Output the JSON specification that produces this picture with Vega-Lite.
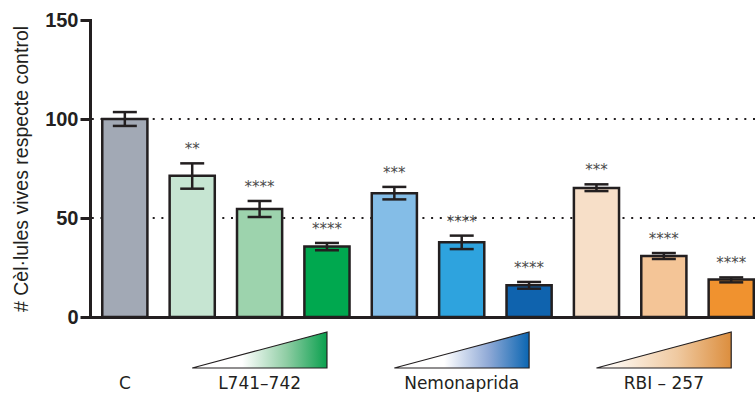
{
  "$schema": "https://vega.github.io/schema/vega-lite/v6.json",
  "padding": {"left": 11, "top": 10, "right": 0, "bottom": 0},
  "background": "white",
  "bounds": "flush",
  "spacing": 15,
  "config": {
    "view": {"stroke": null},
    "font": "Liberation Sans"
  },
  "datasets": {
    "cells": [
      {"barra": "C", "grup": "C", "dosi": 0, "mitjana": 100, "baix": 96.5, "alt": 103.5, "sig": ""},
      {"barra": "L1", "grup": "L741–742", "dosi": 1, "mitjana": 71.3, "baix": 64.8, "alt": 77.6, "sig": "**"},
      {"barra": "L2", "grup": "L741–742", "dosi": 2, "mitjana": 54.5, "baix": 50.5, "alt": 58.6, "sig": "****"},
      {"barra": "L3", "grup": "L741–742", "dosi": 3, "mitjana": 35.6, "baix": 33.7, "alt": 37.4, "sig": "****"},
      {"barra": "N1", "grup": "Nemonaprida", "dosi": 1, "mitjana": 62.5, "baix": 59.4, "alt": 65.7, "sig": "***"},
      {"barra": "N2", "grup": "Nemonaprida", "dosi": 2, "mitjana": 37.7, "baix": 34.3, "alt": 41.1, "sig": "****"},
      {"barra": "N3", "grup": "Nemonaprida", "dosi": 3, "mitjana": 16, "baix": 14.3, "alt": 17.7, "sig": "****"},
      {"barra": "R1", "grup": "RBI – 257", "dosi": 1, "mitjana": 65.2, "baix": 63.6, "alt": 67, "sig": "***"},
      {"barra": "R2", "grup": "RBI – 257", "dosi": 2, "mitjana": 30.8, "baix": 29.3, "alt": 32.3, "sig": "****"},
      {"barra": "R3", "grup": "RBI – 257", "dosi": 3, "mitjana": 18.9, "baix": 17.5, "alt": 20, "sig": "****"}
    ],
    "referencies": [{"nivell": 50}, {"nivell": 100}]
  },
  "vconcat": [
    {
      "width": 665,
      "height": 297,
      "layer": [
        {
          "data": {"name": "referencies"},
          "mark": {"type": "rule", "strokeDash": [2, 6.7], "strokeWidth": 2, "color": "#231f20"},
          "encoding": {"y": {"field": "nivell", "type": "quantitative"}}
        },
        {
          "data": {"name": "cells"},
          "mark": {"type": "bar", "stroke": "#231f20", "strokeWidth": 2.5, "opacity": 1},
          "encoding": {
            "x": {
              "field": "barra", "type": "nominal",
              "scale": {"type": "band", "domain": ["C", "L1", "L2", "L3", "N1", "N2", "N3", "R1", "R2", "R3"], "paddingInner": 0.33, "paddingOuter": 0.1, "align": 0.91},
              "axis": {"title": null, "labels": false, "ticks": false, "grid": false, "domain": true, "domainWidth": 3, "domainColor": "#231f20", "domainCap": "square"}
            },
            "y": {
              "field": "mitjana", "type": "quantitative",
              "title": "# Cèl·lules vives respecte control",
              "scale": {"domain": [0, 150], "nice": false},
              "axis": {
                "values": [0, 50, 100, 150], "grid": false,
                "domainWidth": 3, "domainColor": "#231f20", "domainCap": "square",
                "tickSize": 10, "tickWidth": 3, "tickColor": "#231f20",
                "labelFont": "Liberation Sans", "labelFontSize": 20, "labelFontWeight": "bold", "labelColor": "#231f20", "labelPadding": 2,
                "titleFont": "Liberation Sans", "titleFontSize": 19.5, "titleFontWeight": "normal", "titleColor": "#231f20", "titlePadding": 13
              }
            },
            "color": {
              "field": "barra", "type": "nominal", "legend": null,
              "scale": {
                "domain": ["C", "L1", "L2", "L3", "N1", "N2", "N3", "R1", "R2", "R3"],
                "range": ["#a2a9b5", "#c6e5d2", "#9dd3ad", "#00a84f", "#84bde7", "#2ea3de", "#0f63ae", "#f7dfc8", "#f4c597", "#f0922f"]
              }
            }
          }
        },
        {
          "data": {"name": "cells"},
          "mark": {"type": "rule", "strokeWidth": 2.5, "color": "#231f20"},
          "encoding": {
            "x": {"field": "barra", "type": "nominal"},
            "y": {"field": "baix", "type": "quantitative"},
            "y2": {"field": "alt"}
          }
        },
        {
          "data": {"name": "cells"},
          "mark": {"type": "tick", "orient": "horizontal", "size": 24, "thickness": 2.5, "color": "#231f20", "opacity": 1},
          "encoding": {
            "x": {"field": "barra", "type": "nominal"},
            "y": {"field": "alt", "type": "quantitative"}
          }
        },
        {
          "data": {"name": "cells"},
          "mark": {"type": "tick", "orient": "horizontal", "size": 24, "thickness": 2.5, "color": "#231f20", "opacity": 1},
          "encoding": {
            "x": {"field": "barra", "type": "nominal"},
            "y": {"field": "baix", "type": "quantitative"}
          }
        },
        {
          "data": {"name": "cells"},
          "mark": {"type": "text", "font": "DejaVu Sans", "fontSize": 15, "color": "#4a4a4a", "baseline": "middle", "dy": -14},
          "encoding": {
            "x": {"field": "barra", "type": "nominal"},
            "y": {"field": "alt", "type": "quantitative"},
            "text": {"field": "sig"}
          }
        }
      ]
    },
    {
      "width": 665,
      "height": 36,
      "data": {"name": "cells"},
      "layer": [
        {
          "transform": [{"filter": {"field": "grup", "equal": "L741–742"}}],
          "mark": {
            "type": "area", "stroke": "#231f20", "strokeWidth": 1.2, "opacity": 1,
            "fill": {"gradient": "linear", "x1": 0, "x2": 1, "y1": 0, "y2": 0,
              "stops": [{"offset": 0, "color": "#ffffff"}, {"offset": 0.37, "color": "#ffffff"}, {"offset": 0.7, "color": "#8fcda4"}, {"offset": 1, "color": "#0aa04e"}]}
          },
          "encoding": {
            "x": {"field": "barra", "type": "nominal", "axis": null,
              "scale": {"type": "band", "domain": ["C", "L1", "L2", "L3", "N1", "N2", "N3", "R1", "R2", "R3"], "paddingInner": 0.33, "paddingOuter": 0.1, "align": 0.91}},
            "y": {"field": "dosi", "type": "quantitative", "axis": null, "scale": {"domain": [1, 3], "nice": false, "zero": false}},
            "y2": {"datum": 1}
          }
        },
        {
          "transform": [{"filter": {"field": "grup", "equal": "Nemonaprida"}}],
          "mark": {
            "type": "area", "stroke": "#231f20", "strokeWidth": 1.2, "opacity": 1,
            "fill": {"gradient": "linear", "x1": 0, "x2": 1, "y1": 0, "y2": 0,
              "stops": [{"offset": 0, "color": "#ffffff"}, {"offset": 0.37, "color": "#ffffff"}, {"offset": 0.7, "color": "#8fa9d6"}, {"offset": 1, "color": "#0b66b2"}]}
          },
          "encoding": {
            "x": {"field": "barra", "type": "nominal"},
            "y": {"field": "dosi", "type": "quantitative"},
            "y2": {"datum": 1}
          }
        },
        {
          "transform": [{"filter": {"field": "grup", "equal": "RBI – 257"}}],
          "mark": {
            "type": "area", "stroke": "#231f20", "strokeWidth": 1.2, "opacity": 1,
            "fill": {"gradient": "linear", "x1": 0, "x2": 1, "y1": 0, "y2": 0,
              "stops": [{"offset": 0, "color": "#ffffff"}, {"offset": 0.15, "color": "#fdf5ec"}, {"offset": 0.6, "color": "#efc9a0"}, {"offset": 1, "color": "#dc8e3e"}]}
          },
          "encoding": {
            "x": {"field": "barra", "type": "nominal"},
            "y": {"field": "dosi", "type": "quantitative"},
            "y2": {"datum": 1}
          }
        },
        {
          "transform": [{"filter": "datum.dosi == 0 || datum.dosi == 2"}],
          "mark": {"type": "text", "font": "DejaVu Sans", "fontSize": 17, "color": "#231f20", "baseline": "middle", "dy": 15.5},
          "encoding": {
            "x": {"field": "barra", "type": "nominal"},
            "y": {"datum": 1},
            "text": {"field": "grup"}
          }
        }
      ]
    }
  ]
}
